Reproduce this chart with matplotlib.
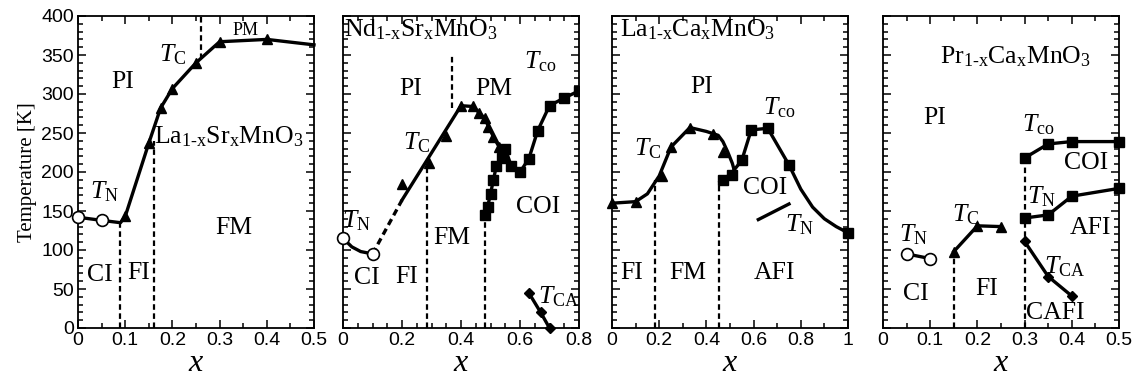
import numpy as np
import matplotlib
matplotlib.use("Agg")
import matplotlib.pyplot as plt
from matplotlib.ticker import MultipleLocator

plt.rcParams['font.family'] = ['Liberation Serif', 'DejaVu Serif']
plt.rcParams['mathtext.fontset'] = 'custom'
plt.rcParams['mathtext.rm'] = 'Liberation Serif'
plt.rcParams['mathtext.it'] = 'Liberation Serif:italic'

# ---- panel 1: La1-xSrxMnO3 ----
lsmo_x = [0, 0.05, 0.09, 0.1, 0.15, 0.175, 0.2, 0.25, 0.3, 0.4, 0.5]
lsmo_T = [142, 138, 135, 143, 237, 282, 307, 340, 367, 370, 363]
lsmo_tn_x = [0, 0.05]
lsmo_tn_T = [142, 138]
lsmo_tc_x = [0.1, 0.15, 0.175, 0.2, 0.25, 0.3, 0.4]
lsmo_tc_T = [143, 237, 282, 307, 340, 367, 370]

# ---- panel 2: Nd1-xSrxMnO3 ----
nsmo_tn_x = [0, 0.03, 0.06, 0.1]
nsmo_tn_T = [115, 104, 98, 95]
nsmo_dash_x = [0.1, 0.2]
nsmo_dash_T = [95, 164]
nsmo_tcline_x = [0.2, 0.4, 0.44, 0.48, 0.51, 0.54]
nsmo_tcline_T = [164, 285, 284, 269, 245, 225]
nsmo_tc_x = [0.2, 0.29, 0.35, 0.4, 0.44, 0.46, 0.48, 0.49, 0.51, 0.53]
nsmo_tc_T = [185, 211, 246, 285, 284, 276, 269, 258, 245, 232]
nsmo_co_x = [0.48, 0.49, 0.5, 0.51, 0.52, 0.54, 0.55, 0.57, 0.6, 0.63, 0.66, 0.7, 0.75, 0.8]
nsmo_co_T = [145, 155, 172, 190, 208, 218, 230, 208, 200, 217, 253, 285, 295, 304]
nsmo_ca_x = [0.63, 0.67, 0.7]
nsmo_ca_T = [45, 20, 0]

# ---- panel 3: La1-xCaxMnO3 ----
lcmo_tcline_x = [0, 0.1, 0.15, 0.2, 0.25, 0.33, 0.4, 0.45, 0.47, 0.49, 0.51, 0.52]
lcmo_tcline_T = [160, 162, 172, 195, 232, 257, 252, 247, 239, 226, 211, 200]
lcmo_tc_x = [0, 0.1, 0.21, 0.25, 0.33, 0.43, 0.47]
lcmo_tc_T = [160, 162, 195, 232, 256, 249, 226]
lcmo_coline_x = [0.46, 0.5, 0.55, 0.59, 0.66, 0.75, 0.8, 0.85, 0.9, 0.95, 1.0]
lcmo_coline_T = [190, 196, 215, 254, 256, 209, 178, 155, 140, 130, 122]
lcmo_co_x = [0.47, 0.51, 0.55, 0.59, 0.66, 0.75, 1.0]
lcmo_co_T = [190, 196, 215, 254, 256, 209, 122]
lcmo_tn_x = [0.62, 0.75]
lcmo_tn_T = [139, 159]

# ---- panel 4: Pr1-xCaxMnO3 ----
pcmo_tn1_x = [0.05, 0.1]
pcmo_tn1_T = [95, 89]
pcmo_tc_x = [0.15, 0.2, 0.25]
pcmo_tc_T = [98, 131, 130]
pcmo_co_x = [0.3, 0.35, 0.4, 0.5]
pcmo_co_T = [218, 236, 239, 239]
pcmo_tn_x = [0.3, 0.35, 0.4, 0.5]
pcmo_tn_T = [141, 145, 169, 179]
pcmo_ca_x = [0.3, 0.35, 0.4]
pcmo_ca_T = [111, 66, 41]

fig = plt.figure(figsize=(11.36, 3.79), dpi=100)
lefts = [78, 343, 612, 883]
axes = [fig.add_axes([l / 1136, 51 / 379, 236 / 1136, 312 / 379]) for l in lefts]

LW = 2.4
MS = 7
lab = 18.5
TK = 14


def style(ax, xmax, major, minor):
    ax.set_xlim(0, xmax)
    ax.set_ylim(0, 400)
    ax.xaxis.set_major_locator(MultipleLocator(major))
    ax.xaxis.set_minor_locator(MultipleLocator(minor))
    ax.yaxis.set_major_locator(MultipleLocator(50))
    ax.yaxis.set_minor_locator(MultipleLocator(10))
    ax.tick_params(which='both', direction='in', top=True, right=True, width=1.1)
    ax.tick_params(which='major', length=6, pad=3)
    ax.tick_params(which='minor', length=3.5)
    for lbl in ax.get_xticklabels() + ax.get_yticklabels():
        lbl.set_fontfamily('Liberation Sans')
        lbl.set_fontsize(TK)
    for s in ax.spines.values():
        s.set_linewidth(1.3)
    ax.set_xlabel('$x$', fontsize=23, labelpad=0)


def vdash(ax, x, y0, y1):
    ax.plot([x, x], [y0, y1], 'k', ls=(0, (2.5, 1.6)), lw=1.6)


def txt(ax, x, y, s, size=lab, ha='center'):
    ax.text(x, y, s, fontsize=size, ha=ha, va='center')


# panel 1
ax = axes[0]
ax.plot(lsmo_x, lsmo_T, 'k-', lw=LW, clip_on=False)
ax.plot(lsmo_tn_x, lsmo_tn_T, 'o', mfc='white', mec='k', ms=8.5, mew=1.2, clip_on=False, zorder=5)
ax.plot(lsmo_tc_x, lsmo_tc_T, 'k^', ms=MS, zorder=5)
vdash(ax, 0.09, 0, 135)
vdash(ax, 0.16, 0, 240)
vdash(ax, 0.26, 345, 400)
txt(ax, 0.095, 315, 'PI')
txt(ax, 0.2, 350, r'$T_{\rm C}$')
txt(ax, 0.355, 381, 'PM', size=13)
txt(ax, 0.162, 245, r'La$_{\rm 1\text{-}x}$Sr$_{\rm x}$MnO$_{3}$', ha='left')
txt(ax, 0.057, 175, r'$T_{\rm N}$')
txt(ax, 0.33, 128, 'FM')
txt(ax, 0.047, 68, 'CI')
txt(ax, 0.128, 70, 'FI')
style(ax, 0.5, 0.1, 0.05)
ax.set_xticks([0, 0.1, 0.2, 0.3, 0.4, 0.5], ['0', '0.1', '0.2', '0.3', '0.4', '0.5'],
              fontfamily='Liberation Sans', fontsize=TK)
ax.set_ylabel('Temperature [K]', fontsize=15, labelpad=3)

# panel 2
ax = axes[1]
ax.plot(nsmo_tn_x, nsmo_tn_T, 'k-', lw=LW)
ax.plot([nsmo_tn_x[0], nsmo_tn_x[-1]], [nsmo_tn_T[0], nsmo_tn_T[-1]], 'o', mfc='white', mec='k',
        ms=8.5, mew=1.2, clip_on=False, zorder=5)
ax.plot(nsmo_dash_x, nsmo_dash_T, 'k', ls=(0, (2, 1.3)), lw=LW)
ax.plot(nsmo_tcline_x, nsmo_tcline_T, 'k-', lw=LW)
ax.plot(nsmo_tc_x, nsmo_tc_T, 'k^', ms=MS, zorder=5)
ax.plot(nsmo_co_x, nsmo_co_T, 'ks-', lw=LW, ms=MS, zorder=4)
ax.plot(nsmo_ca_x, nsmo_ca_T, 'kD-', lw=LW, ms=5.5, clip_on=False, zorder=4)
vdash(ax, 0.285, 0, 210)
vdash(ax, 0.37, 282, 350)
vdash(ax, 0.48, 0, 145)
txt(ax, 0.005, 383, r'Nd$_{\rm 1\text{-}x}$Sr$_{\rm x}$MnO$_{3}$', ha='left')
txt(ax, 0.23, 307, 'PI')
txt(ax, 0.51, 307, 'PM')
txt(ax, 0.67, 342, r'$T_{\rm co}$')
txt(ax, 0.25, 237, r'$T_{\rm C}$')
txt(ax, 0.045, 138, r'$T_{\rm N}$')
txt(ax, 0.37, 115, 'FM')
txt(ax, 0.66, 155, 'COI')
txt(ax, 0.08, 64, 'CI')
txt(ax, 0.215, 66, 'FI')
txt(ax, 0.73, 40, r'$T_{\rm CA}$')
style(ax, 0.8, 0.2, 0.05)
ax.set_xticks([0, 0.2, 0.4, 0.6, 0.8], ['0', '0.2', '0.4', '0.6', '0.8'],
              fontfamily='Liberation Sans', fontsize=TK)
ax.set_yticklabels([])

# panel 3
ax = axes[2]
ax.plot(lcmo_tcline_x, lcmo_tcline_T, 'k-', lw=LW, clip_on=False)
ax.plot(lcmo_tc_x, lcmo_tc_T, 'k^', ms=MS, clip_on=False, zorder=5)
ax.plot(lcmo_coline_x, lcmo_coline_T, 'k-', lw=LW)
ax.plot(lcmo_co_x, lcmo_co_T, 'ks', ms=MS, clip_on=False, zorder=5)
ax.plot(lcmo_tn_x, lcmo_tn_T, 'k-', lw=LW)
vdash(ax, 0.184, 0, 190)
vdash(ax, 0.455, 0, 188)
txt(ax, 0.035, 383, r'La$_{\rm 1\text{-}x}$Ca$_{\rm x}$MnO$_{3}$', ha='left')
txt(ax, 0.38, 309, 'PI')
txt(ax, 0.71, 282, r'$T_{\rm co}$')
txt(ax, 0.15, 230, r'$T_{\rm C}$')
txt(ax, 0.65, 179, 'COI')
txt(ax, 0.795, 133, r'$T_{\rm N}$')
txt(ax, 0.085, 70, 'FI')
txt(ax, 0.32, 70, 'FM')
txt(ax, 0.69, 70, 'AFI')
style(ax, 1.0, 0.2, 0.1)
ax.set_xticks([0, 0.2, 0.4, 0.6, 0.8, 1.0], ['0', '0.2', '0.4', '0.6', '0.8', '1'],
              fontfamily='Liberation Sans', fontsize=TK)
ax.set_yticklabels([])

# panel 4
ax = axes[3]
ax.plot(pcmo_tn1_x, pcmo_tn1_T, 'k-', lw=LW)
ax.plot(pcmo_tn1_x, pcmo_tn1_T, 'o', mfc='white', mec='k', ms=8.5, mew=1.2, zorder=5)
ax.plot(pcmo_tc_x, pcmo_tc_T, 'k^-', lw=LW, ms=MS)
ax.plot(pcmo_co_x, pcmo_co_T, 'ks-', lw=LW, ms=MS, clip_on=False)
ax.plot(pcmo_tn_x, pcmo_tn_T, 'ks-', lw=LW, ms=MS, clip_on=False)
ax.plot(pcmo_ca_x, pcmo_ca_T, 'kD-', lw=LW, ms=5.5)
vdash(ax, 0.15, 0, 98)
vdash(ax, 0.3, 0, 218)
txt(ax, 0.28, 348, r'Pr$_{\rm 1\text{-}x}$Ca$_{\rm x}$MnO$_{3}$')
txt(ax, 0.11, 269, 'PI')
txt(ax, 0.33, 260, r'$T_{\rm co}$')
txt(ax, 0.43, 211, 'COI')
txt(ax, 0.335, 168, r'$T_{\rm N}$')
txt(ax, 0.175, 145, r'$T_{\rm C}$')
txt(ax, 0.44, 128, 'AFI')
txt(ax, 0.065, 119, r'$T_{\rm N}$')
txt(ax, 0.385, 79, r'$T_{\rm CA}$')
txt(ax, 0.07, 44, 'CI')
txt(ax, 0.22, 50, 'FI')
txt(ax, 0.365, 19, 'CAFI')
style(ax, 0.5, 0.1, 0.05)
ax.set_xticks([0, 0.1, 0.2, 0.3, 0.4, 0.5], ['0', '0.1', '0.2', '0.3', '0.4', '0.5'],
              fontfamily='Liberation Sans', fontsize=TK)
ax.set_yticklabels([])

fig.savefig('out.png', dpi=100)
